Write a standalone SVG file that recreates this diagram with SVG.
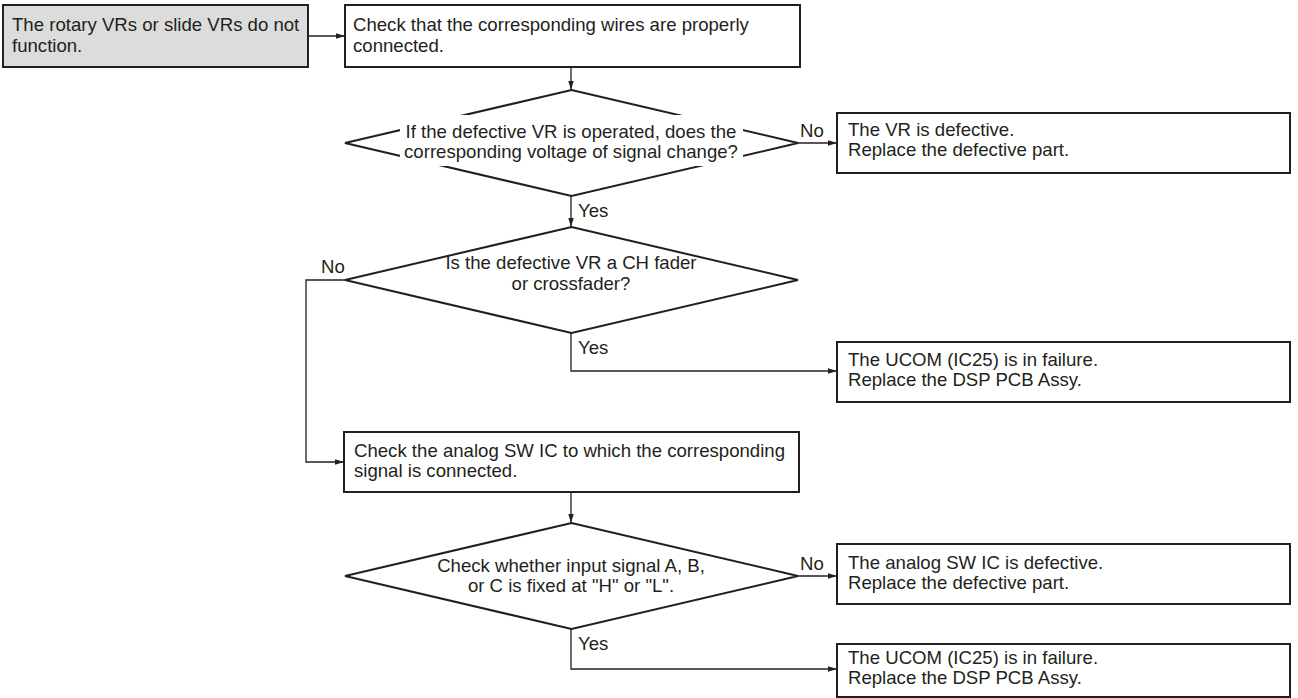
<svg xmlns="http://www.w3.org/2000/svg" width="1298" height="698" viewBox="0 0 1298 698">
<style>
.box{fill:#fff;stroke:#231f20;stroke-width:2}
.start{fill:#dcdcdc;stroke:#231f20;stroke-width:2}
.dia{fill:#fff;stroke:#231f20;stroke-width:2}
.t{font-family:"Liberation Sans",Arial,sans-serif;font-size:18.6px;fill:#231f20}
.c{text-anchor:middle}
.conn{fill:none;stroke:#231f20;stroke-width:1.3}
</style>
<defs>
<marker id="arr" viewBox="0 0 10 6" refX="10" refY="3" markerWidth="9" markerHeight="6" markerUnits="userSpaceOnUse" orient="auto">
<path d="M0,0 L10,3 L0,6 z" fill="#231f20"/>
</marker>
</defs>
<g id="connectors">
<path class="conn" d="M308,36 H345" marker-end="url(#arr)"/>
<path class="conn" d="M571,67 V90" marker-end="url(#arr)"/>
<path class="conn" d="M798,143 H837" marker-end="url(#arr)"/>
<path class="conn" d="M571,196 V227" marker-end="url(#arr)"/>
<path class="conn" d="M345,280 H306 V462 H344" marker-end="url(#arr)"/>
<path class="conn" d="M571,333 V371 H837" marker-end="url(#arr)"/>
<path class="conn" d="M571,492 V523" marker-end="url(#arr)"/>
<path class="conn" d="M798,576 H837" marker-end="url(#arr)"/>
<path class="conn" d="M571,629 V669 H837" marker-end="url(#arr)"/>
<text class="t" x="800" y="137">No</text>
<text class="t" x="578" y="217">Yes</text>
<text class="t" x="321" y="273">No</text>
<text class="t" x="578" y="354">Yes</text>
<text class="t" x="800" y="570">No</text>
<text class="t" x="578" y="650">Yes</text>
</g>
<g id="start">
<rect class="start" x="3" y="5" width="305" height="62"/>
<text class="t" x="12" y="31">The rotary VRs or slide VRs do not</text>
<text class="t" x="12" y="52">function.</text>
</g>
<g id="check-wires">
<rect class="box" x="345" y="5" width="455" height="62"/>
<text class="t" x="353" y="31">Check that the corresponding wires are properly</text>
<text class="t" x="353" y="52">connected.</text>
</g>
<g id="decision-voltage">
<polygon class="dia" points="571.5,90 798,143 571.5,196 345,143"/>
<rect x="400" y="115" width="343" height="51" fill="#fff"/>
<text class="t c" x="571" y="138">If the defective VR is operated, does the</text>
<text class="t c" x="571" y="158">corresponding voltage of signal change?</text>
</g>
<g id="vr-defective">
<rect class="box" x="837" y="113" width="453" height="60"/>
<text class="t" x="848" y="136">The VR is defective.</text>
<text class="t" x="848" y="156">Replace the defective part.</text>
</g>
<g id="decision-fader">
<polygon class="dia" points="571.5,227 798,280 571.5,333 345,280"/>
<text class="t c" x="571" y="269">Is the defective VR a CH fader</text>
<text class="t c" x="571" y="290">or crossfader?</text>
</g>
<g id="ucom-failure-1">
<rect class="box" x="837" y="342" width="453" height="60"/>
<text class="t" x="848" y="366">The UCOM (IC25) is in failure.</text>
<text class="t" x="848" y="386">Replace the DSP PCB Assy.</text>
</g>
<g id="check-analog">
<rect class="box" x="344" y="432" width="455" height="60"/>
<text class="t" x="354" y="457">Check the analog SW IC to which the corresponding</text>
<text class="t" x="354" y="477">signal is connected.</text>
</g>
<g id="decision-input">
<polygon class="dia" points="571.5,523 798,576 571.5,629 345,576"/>
<text class="t c" x="571" y="572">Check whether input signal A, B,</text>
<text class="t c" x="571" y="592">or C is fixed at "H" or "L".</text>
</g>
<g id="analog-defective">
<rect class="box" x="837" y="544" width="453" height="60"/>
<text class="t" x="848" y="569">The analog SW IC is defective.</text>
<text class="t" x="848" y="589">Replace the defective part.</text>
</g>
<g id="ucom-failure-2">
<rect class="box" x="837" y="644" width="453" height="53"/>
<text class="t" x="848" y="664">The UCOM (IC25) is in failure.</text>
<text class="t" x="848" y="684">Replace the DSP PCB Assy.</text>
</g>
</svg>
